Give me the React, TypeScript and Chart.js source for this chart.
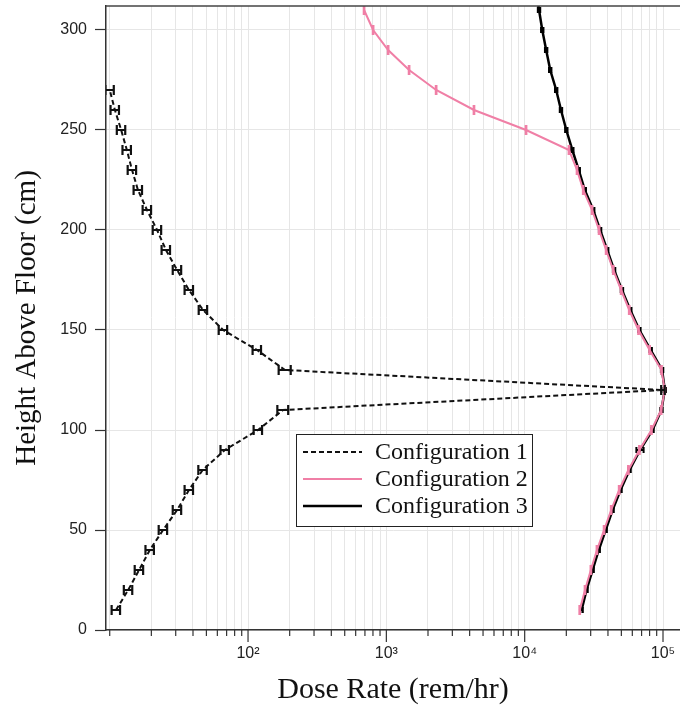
import { useEffect, useRef } from 'react';
import { Chart, registerables } from 'chart.js';

Chart.register(...registerables);

// ---- data ----
const heights1 = [10, 20, 30, 40, 50, 60, 70, 80, 90, 100, 110, 120, 130, 140, 150, 160, 170, 180, 190, 200, 210, 220, 230, 240, 250, 260, 270];
const config1 = [11.1, 13.6, 16.3, 19.5, 24.3, 30.7, 37.4, 47, 68, 118, 179, 100000, 185, 116, 66, 47.3, 37.4, 30.7, 25.5, 22.0, 18.6, 16.0, 14.5, 13.3, 12.1, 10.9, 10.0];
const err1 = [0.07, 0.07, 0.07, 0.07, 0.07, 0.07, 0.07, 0.07, 0.07, 0.07, 0.09, 0.03, 0.1, 0.07, 0.07, 0.07, 0.07, 0.07, 0.07, 0.07, 0.07, 0.07, 0.07, 0.07, 0.07, 0.07, 0.07];

const heights2 = [10, 20, 30, 40, 50, 60, 70, 80, 90, 100, 110, 120, 130, 140, 150, 160, 170, 180, 190, 200, 210, 220, 230, 240, 250, 260, 270, 280, 290, 300, 310];
const config2 = [25000, 27300, 30100, 33300, 37500, 42200, 48200, 56200, 67500, 82500, 97000, 103000, 97500, 80000, 66500, 57000, 49800, 43700, 38800, 34500, 30700, 26500, 23900, 20900, 10230, 4300, 2290, 1460, 1030, 802, 690];
const err2 = [0.01, 0.01, 0.01, 0.01, 0.01, 0.01, 0.01, 0.01, 0.01, 0.01, 0.01, 0.01, 0.01, 0.01, 0.01, 0.01, 0.01, 0.01, 0.01, 0.01, 0.01, 0.01, 0.01, 0.01, 0.01, 0.01, 0.01, 0.01, 0.01, 0.01, 0.01];

const heights3 = [10, 20, 30, 40, 50, 60, 70, 80, 90, 100, 110, 120, 130, 140, 150, 160, 170, 180, 190, 200, 210, 220, 230, 240, 250, 260, 270, 280, 290, 300, 310, 320];
const config3 = [25800, 28000, 31000, 34300, 38500, 43200, 49300, 57300, 68300, 84000, 97500, 103000, 98500, 81500, 67500, 58000, 50500, 44300, 39500, 35100, 31300, 27200, 24600, 22100, 20000, 18300, 16900, 15300, 14300, 13400, 12700, 12100];
const err3 = [0.02, 0.02, 0.02, 0.02, 0.02, 0.02, 0.02, 0.02, 0.06, 0.02, 0.02, 0.02, 0.02, 0.02, 0.02, 0.02, 0.02, 0.02, 0.02, 0.02, 0.02, 0.02, 0.02, 0.02, 0.02, 0.02, 0.02, 0.02, 0.02, 0.02, 0.02, 0.02];

const seriesLabels = ['Configuration 1', 'Configuration 2', 'Configuration 3'];

const yTickValues = [0, 50, 100, 150, 200, 250, 300];
const xTickValues = [
  10, 20, 30, 40, 50, 60, 70, 80, 90,
  100, 200, 300, 400, 500, 600, 700, 800, 900,
  1000, 2000, 3000, 4000, 5000, 6000, 7000, 8000, 9000,
  10000, 20000, 30000, 40000, 50000, 60000, 70000, 80000, 90000,
  100000,
];
const xTickLabels: Record<number, string> = { 100: '10²', 1000: '10³', 10000: '10⁴', 100000: '10⁵' };

const X_MIN = 9.4;
const X_MAX = 132700;
const Y_MIN = 0;
const Y_MAX = 312;

const toPoints = (xs: number[], ys: number[]) => xs.map((v, i) => ({ x: v, y: ys[i] }));

// ---- plugins ----
const errorBarPlugin = {
  id: 'errorBars',
  afterDatasetDraw(chart: any, args: any) {
    const ds = chart.data.datasets[args.index] as any;
    if (!ds.errors) return;
    const xs = chart.scales.x;
    const ys = chart.scales.y;
    const ctx = chart.ctx as CanvasRenderingContext2D;
    const ca = chart.chartArea;
    ctx.save();
    ctx.beginPath();
    ctx.rect(ca.left, ca.top, ca.right - ca.left, ca.bottom - ca.top);
    ctx.clip();
    ctx.strokeStyle = ds.errorColor;
    ctx.lineWidth = ds.errorWidth;
    ctx.setLineDash([]);
    ds.data.forEach((p: any, i: number) => {
      const e = ds.errors[i];
      const x1 = xs.getPixelForValue(p.x * (1 - e));
      const x2 = xs.getPixelForValue(p.x * (1 + e));
      const y = ys.getPixelForValue(p.y);
      const c = ds.capHalf;
      ctx.beginPath();
      ctx.moveTo(x1, y);
      ctx.lineTo(x2, y);
      ctx.moveTo(x1, y - c);
      ctx.lineTo(x1, y + c);
      ctx.moveTo(x2, y - c);
      ctx.lineTo(x2, y + c);
      ctx.stroke();
    });
    ctx.restore();
  },
};

const framePlugin = {
  id: 'frame',
  afterDraw(chart: any) {
    const ctx = chart.ctx as CanvasRenderingContext2D;
    const ca = chart.chartArea;
    const xs = chart.scales.x;
    ctx.save();
    // top border
    ctx.strokeStyle = '#444';
    ctx.lineWidth = 1.5;
    ctx.beginPath();
    ctx.moveTo(ca.left, ca.top);
    ctx.lineTo(ca.right, ca.top);
    ctx.stroke();
    // x ticks (major longer than minor)
    ctx.strokeStyle = '#333';
    ctx.lineWidth = 1.2;
    xs.ticks.forEach((t: any) => {
      if (t.value < 10 || t.value > 100000) return;
      const px = xs.getPixelForValue(t.value);
      const len = xTickLabels[t.value] ? 12 : 6;
      ctx.beginPath();
      ctx.moveTo(px, ca.bottom);
      ctx.lineTo(px, ca.bottom + len);
      ctx.stroke();
    });
    ctx.restore();
  },
};

const legendPlugin = {
  id: 'boxLegend',
  afterDraw(chart: any) {
    const ctx = chart.ctx as CanvasRenderingContext2D;
    const bx = 296, by = 434, bw = 236, bh = 92;
    ctx.save();
    ctx.fillStyle = '#ffffff';
    ctx.fillRect(bx, by, bw, bh);
    ctx.strokeStyle = '#222';
    ctx.lineWidth = 1;
    ctx.strokeRect(bx + 0.5, by + 0.5, bw, bh);
    const rows = [452, 479, 506];
    chart.data.datasets.forEach((ds: any, i: number) => {
      const y = rows[i];
      ctx.strokeStyle = ds.borderColor;
      ctx.lineWidth = ds.borderWidth;
      ctx.setLineDash(ds.borderDash || []);
      ctx.beginPath();
      ctx.moveTo(303, y);
      ctx.lineTo(362, y);
      ctx.stroke();
      ctx.setLineDash([]);
      ctx.fillStyle = '#111';
      ctx.font = '24px "Liberation Serif", "Times New Roman", serif';
      ctx.textBaseline = 'middle';
      ctx.textAlign = 'left';
      ctx.fillText(ds.label, 375, y + 1);
    });
    ctx.restore();
  },
};

export default function App() {
  const canvasRef = useRef<HTMLCanvasElement | null>(null);

  useEffect(() => {
    if (!canvasRef.current) return;
    const chart = new Chart(canvasRef.current, {
      type: 'line',
      data: {
        datasets: [
          {
            label: seriesLabels[0],
            data: toPoints(config1, heights1),
            borderColor: '#111111',
            borderWidth: 2,
            borderDash: [5, 3],
            pointRadius: 0,
            fill: false,
            tension: 0,
            errors: err1,
            errorColor: '#111111',
            errorWidth: 2.2,
            capHalf: 5,
          } as any,
          {
            label: seriesLabels[1],
            data: toPoints(config2, heights2),
            borderColor: '#f07fa6',
            borderWidth: 2,
            pointRadius: 0,
            fill: false,
            tension: 0,
            errors: err2,
            errorColor: '#f07fa6',
            errorWidth: 1.5,
            capHalf: 5,
          } as any,
          {
            label: seriesLabels[2],
            data: toPoints(config3, heights3),
            borderColor: '#000000',
            borderWidth: 2.5,
            pointRadius: 0,
            fill: false,
            tension: 0,
            errors: err3,
            errorColor: '#000000',
            errorWidth: 2,
            capHalf: 3,
          } as any,
        ],
      },
      options: {
        animation: false,
        responsive: false,
        layout: { padding: { top: 6, left: 0, right: 0, bottom: 0 } },
        plugins: {
          legend: { display: false },
          tooltip: { enabled: false },
        },
        scales: {
          x: {
            type: 'logarithmic',
            min: X_MIN,
            max: X_MAX,
            afterBuildTicks: (scale: any) => {
              scale.ticks = [...xTickValues, X_MAX].map((v) => ({ value: v, major: !!xTickLabels[v] }));
            },
            afterFit: (scale: any) => {
              scale.height = 81;
              scale.paddingLeft = 0;
              scale.paddingRight = 0;
            },
            grid: { color: '#e6e6e6', lineWidth: 1, drawTicks: false },
            border: { color: '#333', width: 1.5 },
            ticks: {
              autoSkip: false,
              maxRotation: 0,
              padding: 14,
              color: '#222',
              font: { family: '"Liberation Sans", Arial, sans-serif', size: 16 },
              callback: (value: any) => xTickLabels[Number(value)] || '',
            },
            title: {
              display: true,
              text: 'Dose Rate (rem/hr)',
              color: '#111',
              font: { family: '"Liberation Serif", "Times New Roman", serif', size: 30 },
              padding: { top: 0, bottom: 3 },
            },
          },
          y: {
            type: 'linear',
            min: Y_MIN,
            max: Y_MAX,
            afterBuildTicks: (scale: any) => {
              scale.ticks = yTickValues.map((v) => ({ value: v }));
            },
            afterFit: (scale: any) => {
              scale.width = 106;
              scale.paddingTop = 0;
              scale.paddingBottom = 0;
            },
            grid: { color: '#e6e6e6', lineWidth: 1, tickColor: '#333', tickLength: 11, tickWidth: 1.2 },
            border: { color: '#333', width: 1.5 },
            ticks: {
              padding: 8,
              color: '#222',
              font: { family: '"Liberation Sans", Arial, sans-serif', size: 16 },
            },
            title: {
              display: true,
              text: 'Height Above Floor (cm)',
              color: '#111',
              font: { family: '"Liberation Serif", "Times New Roman", serif', size: 29 },
              padding: { top: 10, bottom: 0 },
            },
          },
        },
      },
      plugins: [errorBarPlugin, framePlugin, legendPlugin],
    });
    return () => chart.destroy();
  }, []);

  return (
    <div style={{ position: 'absolute', left: 0, top: 0, width: 680, height: 711, background: '#fff' }}>
      <canvas ref={canvasRef} width={680} height={711} style={{ display: 'block' }} />
    </div>
  );
}
